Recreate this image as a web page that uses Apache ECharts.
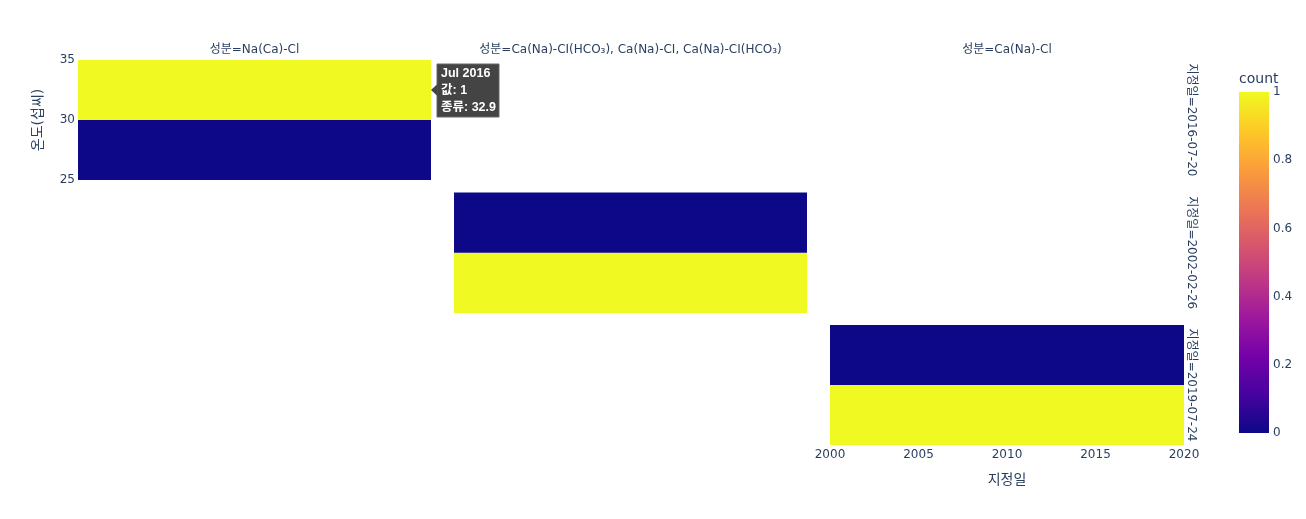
<!DOCTYPE html>
<html><head><meta charset="utf-8">
<script src="https://cdn.jsdelivr.net/npm/echarts@6/dist/echarts.min.js"></script>
<style>html,body{margin:0;padding:0;background:#fff}#c{width:1306px;height:519px}</style>
</head><body><div id="c"></div>
<script>
// ---- data ----
const compositions = ['Na(Ca)-Cl', 'Ca(Na)-CI(HCO₃), Ca(Na)-CI, Ca(Na)-CI(HCO₃)', 'Ca(Na)-Cl'];
const dates = ['2016-07-20', '2002-02-26', '2019-07-24'];
const xBinEdges = [2000, 2020];
const tempBinEdges = [25, 30, 35];
// counts for facet i (row i, column i), per temperature bin: [25-30, 30-35]
const facetCounts = [[0, 1], [1, 0], [1, 0]];
const xTicks = [2000, 2005, 2010, 2015, 2020];
const yTicks = [25, 30, 35];
const colorbarTicks = [0, 0.2, 0.4, 0.6, 0.8, 1];
const hoverLabel = ['Jul 2016', '값: 1', '종류: 32.9'];
const plasma = ['#0d0887', '#46039f', '#7201a8', '#9c179e', '#bd3786', '#d8576b', '#ed7953', '#fb9f3a', '#fdca26', '#f0f921'];

// ---- layout ----
const FONT = '"DejaVu Sans", "Noto Sans CJK KR", sans-serif';
const TXT = '#2a3f5f';
const grids = [
  {left: 78, top: 60, width: 353, height: 120},
  {left: 454, top: 192.5, width: 353, height: 120.5},
  {left: 830, top: 325, width: 354, height: 120}
];
const cbGrid = {left: 1239, top: 92, width: 30, height: 341};

const chart = echarts.init(document.getElementById('c'), null, {renderer: 'canvas'});

const xAxes = grids.map((g, i) => ({
  type: 'value', gridIndex: i, min: xTicks[0], max: xTicks[xTicks.length - 1], interval: xTicks[1] - xTicks[0],
  axisLine: {show: false}, axisTick: {show: false}, splitLine: {show: false},
  axisLabel: {show: i === 2, color: TXT, fontSize: 12, fontFamily: FONT, margin: 4, formatter: v => String(v)}
}));
const yAxes = grids.map((g, i) => ({
  type: 'value', gridIndex: i, min: yTicks[0], max: yTicks[yTicks.length - 1], interval: yTicks[1] - yTicks[0],
  axisLine: {show: false}, axisTick: {show: false}, splitLine: {show: false},
  axisLabel: {show: i === 0, color: TXT, fontSize: 12, fontFamily: FONT, margin: 3, formatter: v => String(v)}
}));
xAxes.push({type: 'value', gridIndex: 3, min: 0, max: 1, show: false});
yAxes.push({type: 'value', gridIndex: 3, min: colorbarTicks[0], max: colorbarTicks[colorbarTicks.length - 1],
  interval: colorbarTicks[1] - colorbarTicks[0], position: 'right',
  axisLine: {show: false}, axisTick: {show: false}, splitLine: {show: false},
  axisLabel: {color: TXT, fontSize: 12, fontFamily: FONT, margin: 4, formatter: v => String(+v.toFixed(1))}});

function cellData(i) {
  const out = [];
  for (let b = 0; b < tempBinEdges.length - 1; b++) {
    out.push([xBinEdges[0], xBinEdges[1], tempBinEdges[b], tempBinEdges[b + 1], facetCounts[i][b]]);
  }
  return out;
}

const series = grids.map((g, i) => ({
  type: 'custom', xAxisIndex: i, yAxisIndex: i,
  encode: {x: [0, 1], y: [2, 3]},
  data: cellData(i),
  renderItem(params, api) {
    const p0 = api.coord([api.value(0), api.value(3)]);
    const p1 = api.coord([api.value(1), api.value(2)]);
    return {type: 'rect', shape: {x: p0[0], y: p0[1], width: p1[0] - p0[0], height: p1[1] - p0[1]},
      style: {fill: api.visual('color')}};
  }
}));
series.push({
  type: 'custom', xAxisIndex: 3, yAxisIndex: 3, data: [[0, 1]], silent: true,
  renderItem(params, api) {
    const p0 = api.coord([0, 1]);
    const p1 = api.coord([1, 0]);
    const stops = plasma.map((c, k) => ({offset: 1 - k / (plasma.length - 1), color: c})).reverse();
    return {type: 'rect', shape: {x: p0[0], y: p0[1], width: p1[0] - p0[0], height: p1[1] - p0[1]},
      style: {fill: new echarts.graphic.LinearGradient(0, 0, 0, 1, stops)}};
  }
});

const graphics = [];
grids.forEach((g, i) => {
  graphics.push({type: 'text', x: g.left + g.width / 2, y: 50,
    style: {text: '성분=' + compositions[i], fill: TXT, font: '12px ' + FONT, textAlign: 'center', textVerticalAlign: 'middle'}});
  graphics.push({type: 'text', x: 1191, y: g.top + g.height / 2, rotation: -Math.PI / 2,
    style: {text: '지정일=' + dates[i], fill: TXT, font: '12px ' + FONT, textAlign: 'center', textVerticalAlign: 'middle'}});
});
graphics.push({type: 'text', x: 38, y: grids[0].top + grids[0].height / 2, rotation: Math.PI / 2,
  style: {text: '온도(섭씨)', fill: TXT, font: '14px ' + FONT, textAlign: 'center', textVerticalAlign: 'middle'}});
graphics.push({type: 'text', x: grids[2].left + grids[2].width / 2, y: 480,
  style: {text: '지정일', fill: TXT, font: '14px ' + FONT, textAlign: 'center', textVerticalAlign: 'middle'}});
graphics.push({type: 'text', x: 1239, y: 79,
  style: {text: 'count', fill: TXT, font: '14px ' + FONT, textAlign: 'left', textVerticalAlign: 'middle'}});

chart.setOption({
  backgroundColor: '#fff',
  animation: false,
  grid: grids.concat([cbGrid]),
  xAxis: xAxes,
  yAxis: yAxes,
  visualMap: {type: 'continuous', show: false, min: 0, max: 1, dimension: 4, seriesIndex: [0, 1, 2],
    inRange: {color: plasma}},
  series: series,
  graphic: graphics
});

// hover label anchored at the right edge of the highlighted bin
const anchor = chart.convertToPixel({gridIndex: 0}, [xBinEdges[1], (tempBinEdges[1] + tempBinEdges[2]) / 2]);
const tipChildren = [
  {type: 'rect', shape: {x: 6, y: -26, width: 62, height: 53}, style: {fill: '#444', stroke: '#666', lineWidth: 1}},
  {type: 'polygon', shape: {points: [[0, 0], [6.5, -6], [6.5, 6]]}, style: {fill: '#444'}}
];
hoverLabel.forEach((t, k) => tipChildren.push({type: 'text', x: 10, y: -16.5 + k * 17,
  style: {text: t, fill: '#fff', font: 'bold 12.5px Arial, "Liberation Sans", "Noto Sans CJK KR", sans-serif', textAlign: 'left', textVerticalAlign: 'middle'}}));
graphics.push({type: 'group', x: anchor[0], y: anchor[1], z: 100, children: tipChildren});
chart.setOption({graphic: graphics});
</script>
</body></html>
